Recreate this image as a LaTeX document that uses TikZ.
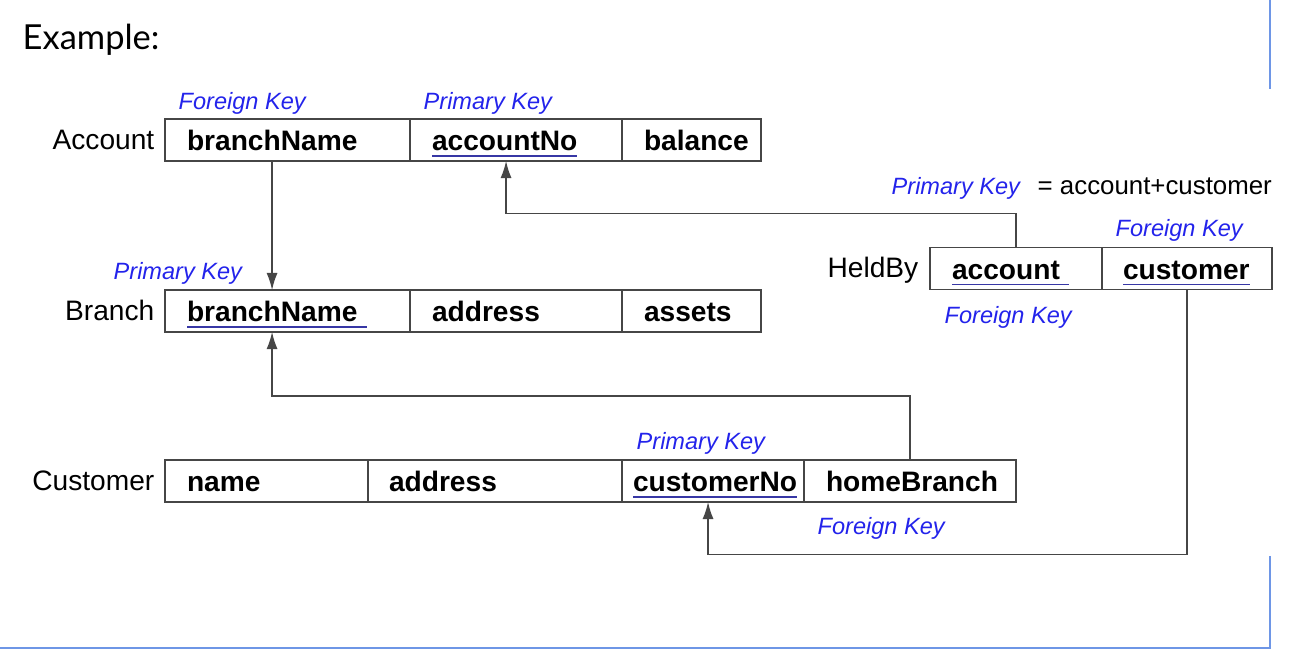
\documentclass[tikz,border=0pt]{standalone}
\usepackage{fontspec}
\setmainfont{Liberation Sans}
\newfontfamily\titlefont{Lato}
\usetikzlibrary{arrows.meta}
\definecolor{keyblue}{RGB}{35,35,235}
\definecolor{ulblue}{RGB}{55,55,165}
\definecolor{linegray}{RGB}{70,70,70}
\definecolor{frameblue}{RGB}{110,150,230}
\newcommand{\keyfield}[1]{\textcolor{ulblue}{\underline{\textcolor{black}{#1}}}}

\begin{document}
\begin{tikzpicture}[x=0.01cm,y=-0.01cm]
		\tikzset{cell/.style = {draw=linegray, line width=0.4pt, outer sep=0pt, anchor=west,
				minimum height=0.42cm, inner xsep=0.22cm, inner ysep=0pt, text width=#1, align=left,
				text height=7.1pt, text depth=1.0pt, font=\fontsize{8}{9.6}\selectfont\bfseries}}
		\tikzset{tname/.style = {anchor=base east, inner sep=0pt, font=\fontsize{8}{9.6}\selectfont}}
		\tikzset{keylabel/.style = {anchor=base west, inner sep=0pt, text=keyblue, font=\fontsize{6.7}{8}\selectfont\itshape}}
		\tikzset{edge/.style = {draw=linegray, line width=0.4pt, -{Latex[length=0.17cm,width=0.11cm]}}}
		
		\useasboundingbox (0,0) rectangle (1308,652);
		
		\node[anchor=base west, inner sep=0pt, font=\titlefont\fontsize{9.8}{11}\selectfont] (title) at (22,50) {Example:};
		
		% tables
		\node[tname]  (account)  at ( 155, 150) {Account};
		\node[tname]  (branch)   at ( 155, 321) {Branch};
		\node[tname]  (heldby)   at ( 919, 278) {HeldBy};
		\node[tname]  (customer) at ( 155, 491) {Customer};
		
		\node[cell=2.01cm] (acc-bn)  at ( 165, 140) {branchName};
		\node[cell=1.68cm] (acc-no)  at ( 410, 140) {\keyfield{accountNo}};
		\node[cell=0.95cm] (acc-bal) at ( 622, 140) {balance};
		
		\node[cell=2.01cm] (br-bn)   at ( 165, 311) {\keyfield{branchName\ }};
		\node[cell=1.68cm] (br-addr) at ( 410, 311) {address};
		\node[cell=0.95cm] (br-as)   at ( 622, 311) {assets};
		
		\node[cell=1.28cm] (hb-acc)  at ( 930, 268.5) {\keyfield{account\ }};
		\node[cell=1.28cm, inner xsep=0.21cm] (hb-cu) at (1102, 268.5) {\keyfield{customer}};
		
		\node[cell=1.59cm] (cu-name) at ( 165, 481) {name};
		\node[cell=2.12cm, inner xsep=0.21cm] (cu-addr) at ( 368, 481) {address};
		\node[cell=1.60cm, inner xsep=0.11cm] (cu-no)   at ( 622, 481) {\keyfield{customerNo}};
		\node[cell=1.68cm] (cu-hb)   at ( 804, 481) {homeBranch};
		
		% key labels
		\node[keylabel] (fk-acc)    at ( 178, 110) {Foreign Key};
		\node[keylabel] (pk-acc)    at ( 423, 110) {Primary Key};
		\node[keylabel] (pk-hb)     at ( 891, 195) {Primary Key};
		\node[anchor=base west, inner sep=0pt, font=\fontsize{7.35}{9}\selectfont] (pk-hb-eq) at (1037, 195) {= account+customer};
		\node[keylabel] (fk-hb-cu)  at (1115, 237) {Foreign Key};
		\node[keylabel] (pk-br)     at ( 113, 280) {Primary Key};
		\node[keylabel] (fk-hb-acc) at ( 944, 324) {Foreign Key};
		\node[keylabel] (pk-cu)     at ( 636, 450) {Primary Key};
		\node[keylabel] (fk-cu)     at ( 817, 535) {Foreign Key};
		
		% references
		\draw[edge] ([xshift=-0.155cm]acc-bn.south) to ([xshift=-0.155cm]br-bn.north);
		\draw[edge] (hb-acc.north) -- ++(0,-34) -| ([xshift=-0.1cm]acc-no.south);
		\draw[edge] (cu-hb.north) -- ++(0,-64) -| ([xshift=-0.155cm]br-bn.south);
		\draw[edge] (hb-cu.south) -- ++(0,265) -| ([xshift=-0.05cm]cu-no.south);
		
		% frame
		\draw[frameblue, line width=0.35pt] (1270,0) -- (1270,89);
		\draw[frameblue, line width=0.35pt] (1270,556) -- (1270,648) -- (0,648);
\end{tikzpicture}
\end{document}
